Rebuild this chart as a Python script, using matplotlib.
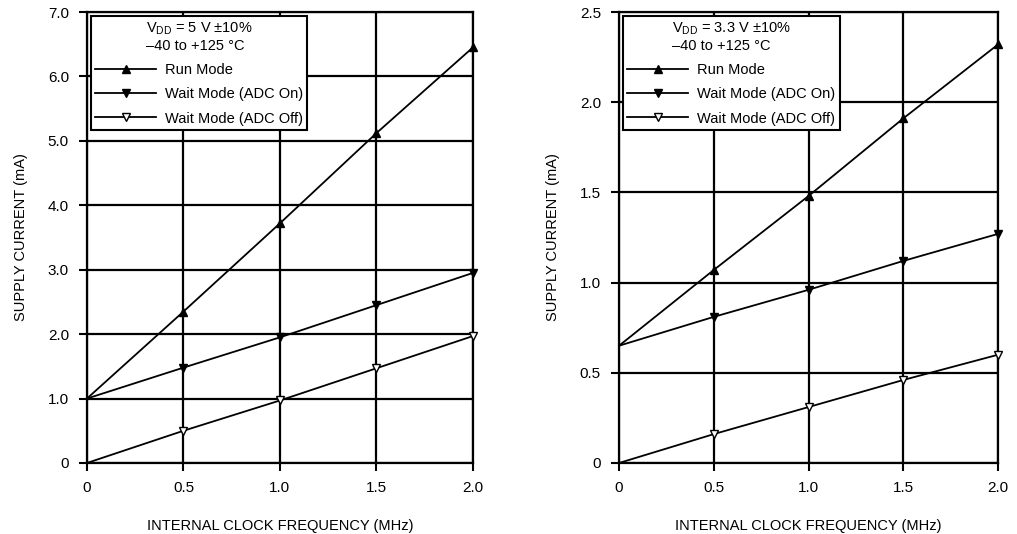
import numpy as np
import matplotlib.pyplot as plt

plt.rcParams['font.family'] = ['Liberation Sans', 'DejaVu Sans']
plt.rcParams['mathtext.fontset'] = 'custom'
plt.rcParams['mathtext.rm'] = 'Liberation Sans'

# data
freq = [0, 0.5, 1.0, 1.5, 2.0]
run_5v = [1.0, 2.35, 3.72, 5.12, 6.45]
wait_on_5v = [1.0, 1.48, 1.95, 2.45, 2.95]
wait_off_5v = [0.0, 0.50, 0.97, 1.47, 1.97]
run_33v = [0.65, 1.07, 1.48, 1.91, 2.32]
wait_on_33v = [0.65, 0.81, 0.96, 1.12, 1.27]
wait_off_33v = [0.0, 0.16, 0.31, 0.46, 0.60]

xticks = [0, 0.5, 1.0, 1.5, 2.0]
xlabels = ['0', '0.5', '1.0', '1.5', '2.0']
yticks_5v = [0, 1, 2, 3, 4, 5, 6, 7]
ylabels_5v = ['0', '1.0', '2.0', '3.0', '4.0', '5.0', '6.0', '7.0']
yticks_33v = [0, 0.5, 1.0, 1.5, 2.0, 2.5]
ylabels_33v = ['0', '0.5', '1.0', '1.5', '2.0', '2.5']

fig = plt.figure(figsize=(10.17, 5.34), dpi=100, facecolor='w')
ax1 = fig.add_axes([0.0855, 0.133, 0.3795, 0.8445])
ax2 = fig.add_axes([0.6087, 0.133, 0.3726, 0.8445])


def draw(ax, run, won, woff, yticks, ylabels, title):
    ax.plot(freq, run, 'k-', lw=1.3, marker='^', ms=6, markevery=[1, 2, 3, 4],
            clip_on=False, zorder=3, label='Run Mode')
    ax.plot(freq, won, 'k-', lw=1.3, marker='v', ms=6, markevery=[1, 2, 3, 4],
            clip_on=False, zorder=3, label='Wait Mode (ADC On)')
    ax.plot(freq, woff, 'k-', lw=1.3, marker='v', ms=6, mfc='w', mew=1.0,
            markevery=[1, 2, 3, 4], clip_on=False, zorder=3,
            label='Wait Mode (ADC Off)')
    ax.set_xlim(0, 2.0)
    ax.set_ylim(yticks[0], yticks[-1])
    ax.set_xticks(xticks)
    ax.set_xticklabels(xlabels)
    ax.set_yticks(yticks)
    ax.set_yticklabels(ylabels)
    ax.grid(True, color='k', lw=1.6)
    ax.set_axisbelow(True)
    for s in ax.spines.values():
        s.set_linewidth(1.6)
    ax.tick_params(length=6, width=1.5, labelsize=11, direction='out', pad=7)
    ax.set_xlabel('INTERNAL CLOCK FREQUENCY (MHz)', fontsize=10.5, labelpad=17)
    ax.set_ylabel('SUPPLY CURRENT (mA)', fontsize=10.5, labelpad=14)
    leg = ax.legend(loc='upper left', title=title, fontsize=10.5, title_fontsize=10.5,
                    fancybox=False, edgecolor='k', framealpha=1, borderaxespad=0.25,
                    borderpad=0.3, handlelength=4.2, handletextpad=0.6,
                    labelspacing=0.7)
    leg.get_frame().set_linewidth(1.5)
    leg.set_zorder(5)


draw(ax1, run_5v, wait_on_5v, wait_off_5v, yticks_5v, ylabels_5v,
     'V$_{\\rm DD}$ = 5 V \u00b110%\n\u201340 to +125 \u00b0C')
draw(ax2, run_33v, wait_on_33v, wait_off_33v, yticks_33v, ylabels_33v,
     'V$_{\\rm DD}$ = 3.3 V \u00b110%\n\u201340 to +125 \u00b0C')

fig.savefig('out.png', dpi=100)
